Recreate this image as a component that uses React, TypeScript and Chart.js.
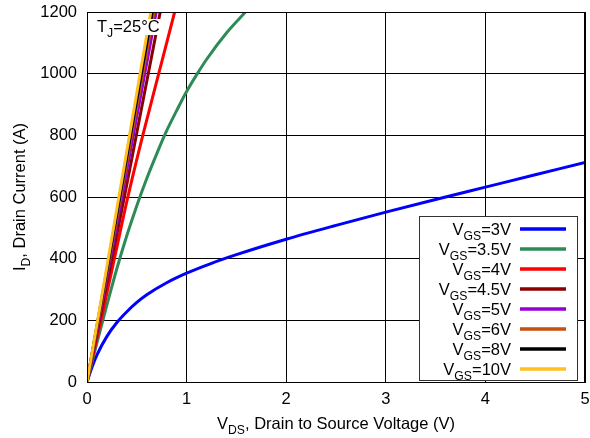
import React, { useEffect, useRef } from "react";
import { Chart, registerables } from "chart.js";
Chart.register(...registerables);

const FONT = '"Liberation Sans", Arial, Helvetica, sans-serif';
const FS = 16.5;

// V_GS = 3 V
const vds3 = [0, 0.05, 0.1, 0.2, 0.3, 0.4, 0.5, 0.6, 0.8, 1.0, 1.25, 1.5, 2, 2.5, 3, 3.5, 4, 4.5, 5];
const id3 = [0, 48, 88, 148, 193, 228, 258, 283, 322, 353, 385, 413, 463, 508, 551, 592, 632, 672, 712];
// V_GS = 3.5 V
const vds35 = [0, 0.1, 0.2, 0.3, 0.4, 0.5, 0.6, 0.7, 0.8, 0.9, 1.0, 1.1, 1.2, 1.4, 1.6];
const id35 = [0, 128, 250, 368, 475, 572, 660, 740, 815, 880, 942, 996, 1046, 1132, 1203];
// steep curves share current levels
const idSteep = [0, 200, 400, 600, 800, 1000, 1200, 1260];
const vds4 = [0, 0.14, 0.275, 0.41, 0.56, 0.72, 0.88, 0.93];
const vds45 = [0, 0.125, 0.25, 0.375, 0.495, 0.615, 0.735, 0.77];
const vds5 = [0, 0.118, 0.235, 0.35, 0.465, 0.58, 0.695, 0.728];
const vds6 = [0, 0.113, 0.225, 0.337, 0.448, 0.56, 0.672, 0.704];
const vds8 = [0, 0.11, 0.22, 0.329, 0.437, 0.546, 0.655, 0.686];
const vds10 = [0, 0.107, 0.213, 0.32, 0.427, 0.533, 0.64, 0.67];

const seriesLabels = ["3V", "3.5V", "4V", "4.5V", "5V", "6V", "8V", "10V"];
const seriesColors = ["#0000FF", "#2E8B57", "#FF0000", "#8B0000", "#9400D3", "#C4510C", "#000000", "#FFC020"];
const xTicks = [0, 1, 2, 3, 4, 5];
const yTicks = [0, 200, 400, 600, 800, 1000, 1200];

type Part = { t: string; sub?: boolean };

function richWidth(ctx: CanvasRenderingContext2D, parts: Part[], size: number) {
  let w = 0;
  for (const p of parts) {
    ctx.font = `${p.sub ? size * 0.74 : size}px ${FONT}`;
    w += ctx.measureText(p.t).width;
  }
  return w;
}

function drawRich(ctx: CanvasRenderingContext2D, parts: Part[], x: number, y: number, align: "left" | "right" | "center", size: number) {
  const w = richWidth(ctx, parts, size);
  let cx = align === "left" ? x : align === "right" ? x - w : x - w / 2;
  ctx.textAlign = "left";
  ctx.textBaseline = "alphabetic";
  ctx.fillStyle = "#000";
  for (const p of parts) {
    ctx.font = `${p.sub ? size * 0.74 : size}px ${FONT}`;
    ctx.fillText(p.t, cx, p.sub ? y + size * 0.3 : y);
    cx += ctx.measureText(p.t).width;
  }
}

const decorPlugin = {
  id: "decor",
  afterDatasetsDraw(chart: any) {
    const ctx: CanvasRenderingContext2D = chart.ctx;
    const a = chart.chartArea;
    ctx.save();
    // T_J label box
    ctx.fillStyle = "#fff";
    ctx.fillRect(a.left + 1, 19, 75, 16);
    drawRich(ctx, [{ t: "T" }, { t: "J", sub: true }, { t: "=25°C" }], 97, 32, "left", FS);

    // frame
    ctx.strokeStyle = "#000";
    ctx.lineWidth = 1;
    ctx.strokeRect(Math.round(a.left) + 0.5, Math.round(a.top) + 0.5, Math.round(a.right - a.left) - 1, Math.round(a.bottom - a.top));

    // legend
    const bx = 419, by = 216, bw = 158, bh = 164;
    ctx.fillStyle = "#fff";
    ctx.fillRect(bx, by, bw, bh);
    ctx.strokeStyle = "#333";
    ctx.strokeRect(bx + 0.5, by + 0.5, bw, bh);
    for (let i = 0; i < seriesLabels.length; i++) {
      const cy = 229 + i * 20;
      drawRich(ctx, [{ t: "V" }, { t: "GS", sub: true }, { t: "=" + seriesLabels[i] }], 511, cy + 6, "right", FS);
      ctx.strokeStyle = seriesColors[i];
      ctx.lineWidth = 3.5;
      ctx.beginPath();
      ctx.moveTo(520, cy);
      ctx.lineTo(566, cy);
      ctx.stroke();
    }

    // axis titles
    drawRich(ctx, [{ t: "V" }, { t: "DS", sub: true }, { t: ", Drain to Source Voltage (V)" }], (a.left + a.right) / 2, 429, "center", FS);
    ctx.save();
    ctx.translate(25, (a.top + a.bottom) / 2);
    ctx.rotate(-Math.PI / 2);
    drawRich(ctx, [{ t: "I" }, { t: "D", sub: true }, { t: ", Drain Current (A)" }], 0, 0, "center", FS);
    ctx.restore();
    ctx.restore();
  },
};

function pts(xs: number[], ys: number[]) {
  return xs.map((x, i) => ({ x, y: ys[i] }));
}

export default function App() {
  const ref = useRef<HTMLCanvasElement>(null);
  useEffect(() => {
    document.body.style.margin = "0";
    const seriesData = [
      pts(vds3, id3),
      pts(vds35, id35),
      pts(vds4, idSteep),
      pts(vds45, idSteep),
      pts(vds5, idSteep),
      pts(vds6, idSteep),
      pts(vds8, idSteep),
      pts(vds10, idSteep),
    ];
    const chart = new Chart(ref.current!, {
      type: "line",
      data: {
        datasets: seriesData.map((d, i) => ({
          label: "VGS=" + seriesLabels[i],
          data: d,
          borderColor: seriesColors[i],
          backgroundColor: seriesColors[i],
          borderWidth: 3,
          pointRadius: 0,
          fill: false,
          cubicInterpolationMode: "monotone" as const,
          order: seriesLabels.length - i,
        })),
      },
      options: {
        animation: false,
        responsive: false,
        events: [],
        layout: { padding: { left: 0, top: 12, right: 5, bottom: 0 } },
        plugins: { legend: { display: false }, tooltip: { enabled: false }, title: { display: false } },
        scales: {
          x: {
            type: "linear",
            min: 0,
            max: 5,
            afterBuildTicks: (s: any) => { s.ticks = xTicks.map((v) => ({ value: v })); },
            afterFit: (s: any) => { s.height = 56; s.paddingLeft = 0; s.paddingRight = 0; },
            ticks: { color: "#000", font: { family: FONT, size: FS }, padding: 8, maxRotation: 0, callback: (v: any) => String(v) },
            grid: { color: "#000", lineWidth: 1, drawTicks: false },
            border: { color: "#000", width: 1 },
          },
          y: {
            type: "linear",
            min: 0,
            max: 1200,
            afterBuildTicks: (s: any) => { s.ticks = yTicks.map((v) => ({ value: v })); },
            afterFit: (s: any) => { s.width = 87; s.paddingTop = 0; s.paddingBottom = 0; },
            ticks: { color: "#000", font: { family: FONT, size: FS }, padding: 10, callback: (v: any) => String(v) },
            grid: { color: "#000", lineWidth: 1, drawTicks: false },
            border: { color: "#000", width: 1 },
          },
        },
      },
      plugins: [decorPlugin],
    });
    return () => chart.destroy();
  }, []);
  return <canvas ref={ref} width={590} height={438} style={{ display: "block", width: 590, height: 438 }} />;
}
